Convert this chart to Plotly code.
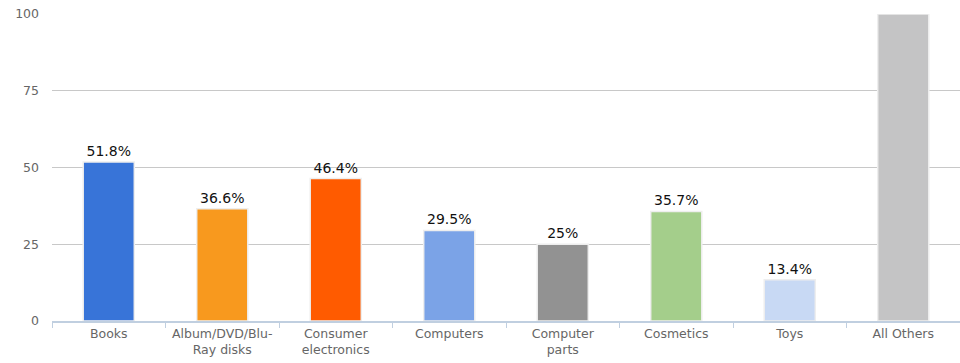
import plotly.graph_objects as go

categories = ['Books', 'Album/DVD/Blu-<br>Ray disks', 'Consumer<br>electronics', 'Computers',
              'Computer<br>parts', 'Cosmetics', 'Toys', 'All Others']
values = [51.8, 36.6, 46.4, 29.5, 25, 35.7, 13.4, 100]
labels = ['51.8%', '36.6%', '46.4%', '29.5%', '25%', '35.7%', '13.4%', '']
colors = ['#3874d8', '#f8991e', '#ff5b00', '#7ba3e7', '#929292', '#a4ce8b', '#c8d9f4', '#c4c4c5']

fig = go.Figure(go.Bar(
    x=categories,
    y=values,
    text=labels,
    textposition='outside',
    cliponaxis=False,
    textfont=dict(size=14, color='#111111', family='DejaVu Sans'),
    marker=dict(color=colors, line=dict(color='#eeeeee', width=1.5)),
    hoverinfo='skip',
))

fig.update_layout(
    width=960, height=363,
    margin=dict(l=52, r=0, t=14, b=42),
    paper_bgcolor='white', plot_bgcolor='white',
    bargap=0.55,
    showlegend=False,
    font=dict(family='DejaVu Sans', size=12, color='#666666'),
    uniformtext=dict(minsize=14, mode='show'),
)
fig.update_yaxes(
    range=[0, 100], tickvals=[0, 25, 50, 75, 100],
    showgrid=True, gridcolor='#c8c8c8', gridwidth=1,
    zeroline=False, ticks='', ticklabelstandoff=12,
    tickfont=dict(size=12.5, color='#666666'),
    automargin=False,
)
fig.update_xaxes(
    showline=True, linecolor='#c0cfe0', linewidth=1.5,
    ticks='outside', tickson='boundaries', ticklen=5, tickcolor='#c0cfe0',
    tickfont=dict(size=12.5, color='#666666'),
    automargin=False,
)

# page body has a default 8px margin; remove it so the figure fills the window
fig.write_html("out.html", config={'displayModeBar': False},
               post_script="document.body.style.margin='0';")
